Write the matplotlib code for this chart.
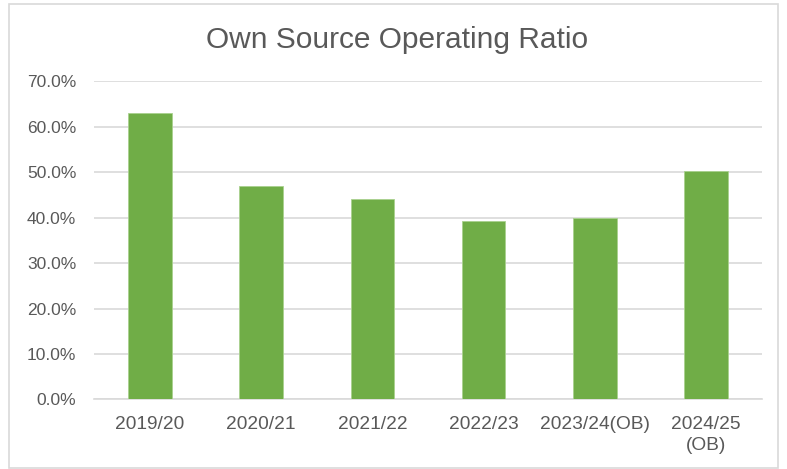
import numpy as np
import matplotlib.pyplot as plt
from matplotlib.patches import Rectangle
from matplotlib.ticker import PercentFormatter

# Own source operating ratio by year (OB = original budget)
years = ['2019/20', '2020/21', '2021/22', '2022/23', '2023/24(OB)', '2024/25\n(OB)']
ratios = [0.631, 0.470, 0.440, 0.393, 0.399, 0.503]
y_ticks = [0.0, 0.1, 0.2, 0.3, 0.4, 0.5, 0.6, 0.7]


def main():
    plt.rcParams['font.family'] = ['Liberation Sans', 'DejaVu Sans']
    text_color = '#595959'
    grid_color = '#D9D9D9'

    fig = plt.figure(figsize=(7.87, 4.69), dpi=100)
    ax = fig.add_axes([0.1198, 0.1482, 0.8481, 0.6787])

    x = np.arange(len(years))
    ax.bar(x, ratios, width=0.39, color='#70AD47', edgecolor='#A9D18E',
           linewidth=0.6, zorder=3)

    ax.set_xlim(-0.5, len(years) - 0.5)
    ax.set_ylim(0, 0.7)
    ax.set_yticks(y_ticks)
    ax.yaxis.set_major_formatter(PercentFormatter(1.0, decimals=1))
    ax.set_xticks(x)
    ax.set_xticklabels(years, linespacing=1.3)

    ax.tick_params(axis='y', length=0, pad=13, labelsize=12.5, labelcolor=text_color)
    ax.tick_params(axis='x', length=0, pad=12, labelsize=13.8, labelcolor=text_color)

    ax.grid(axis='y', color=grid_color, linewidth=1.2, zorder=0)
    for side in ['top', 'right', 'left']:
        ax.spines[side].set_visible(False)
    ax.spines['bottom'].set_color(grid_color)
    ax.spines['bottom'].set_linewidth(1.2)

    fig.text(0.505, 0.915, 'Own Source Operating Ratio', ha='center', va='center',
             fontsize=21.5, color=text_color)

    # Chart frame
    w, h = 787, 469
    fig.patches.append(Rectangle((8.5 / w, 1 - 467.5 / h), (778 - 8.5) / w, (467.5 - 4) / h,
                                 transform=fig.transFigure, fill=False,
                                 edgecolor=grid_color, linewidth=1.2))

    fig.savefig('out.png', dpi=100)


if __name__ == '__main__':
    main()
